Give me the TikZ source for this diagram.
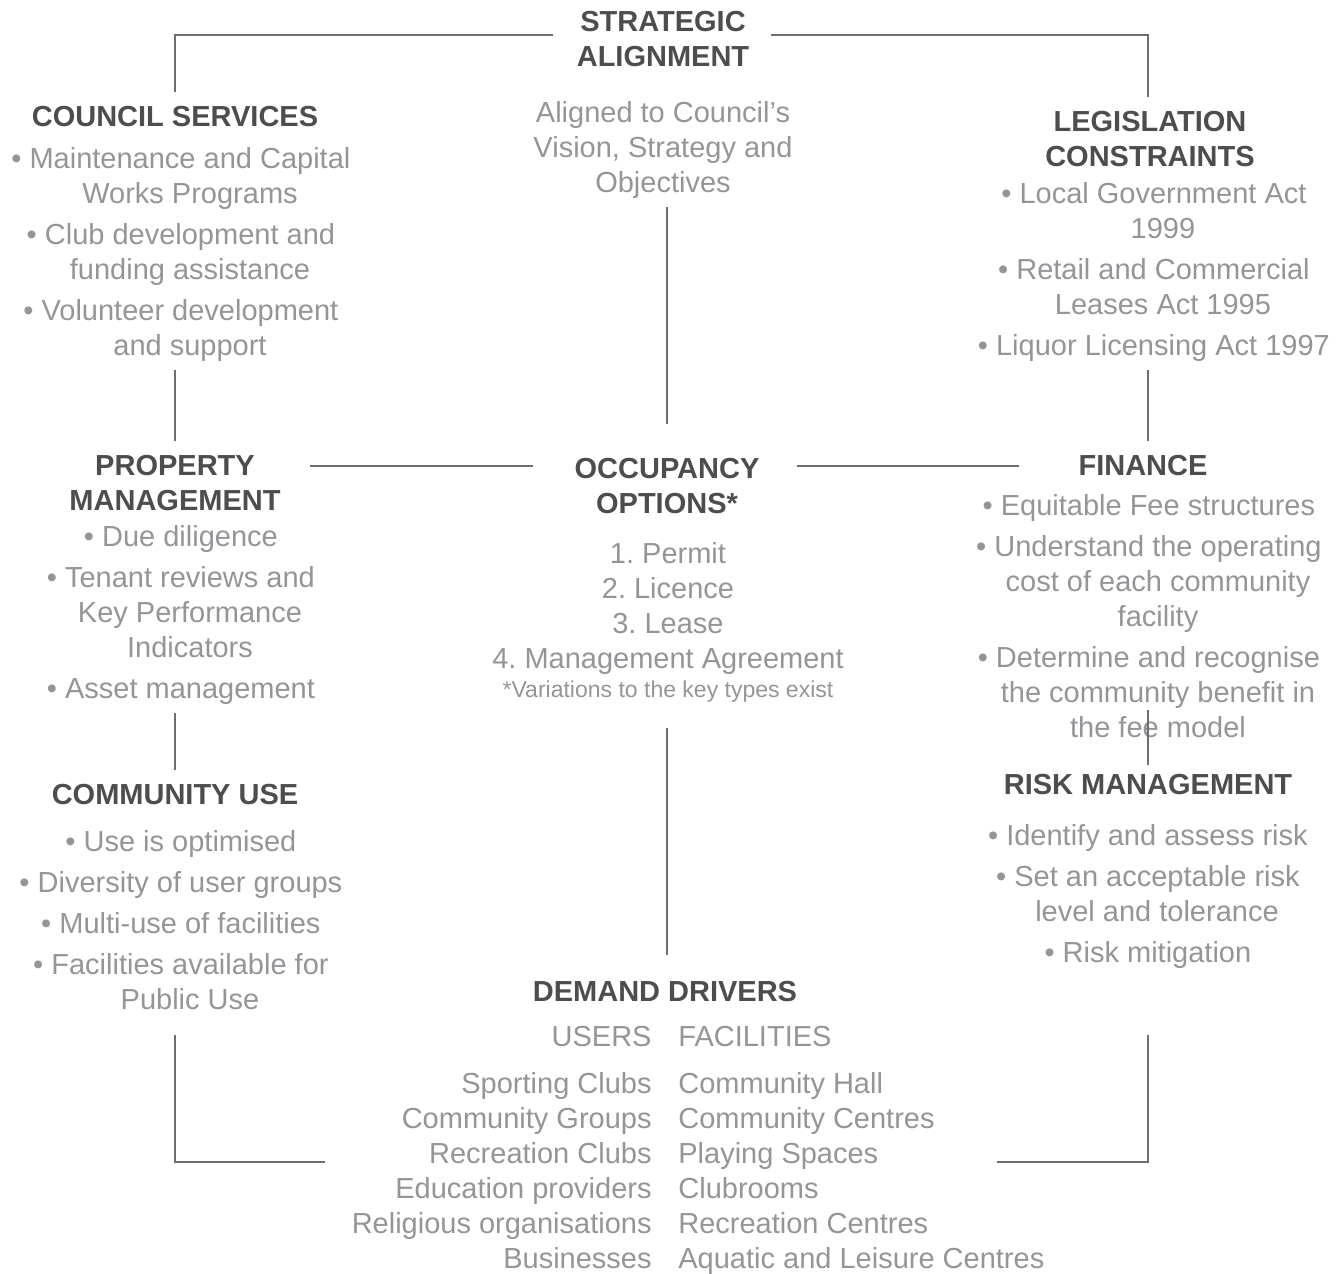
\documentclass[tikz,border=0pt]{standalone}
\usepackage{fontspec}
\setmainfont{Liberation Sans}
\usetikzlibrary{positioning, calc}
\definecolor{head-grey}{HTML}{4D4D4F}
\definecolor{text-grey}{HTML}{939598}
\definecolor{line-grey}{HTML}{6D6E71}
\newcommand{\bul}{\llap{\textbullet\ }}
\frenchspacing

\begin{document}
\begin{tikzpicture}[x=0.5pt, y=-0.5pt,
	head/.style={font=\fontsize{14.5}{17.5}\selectfont\bfseries, text=head-grey, align=center, inner xsep=0pt, inner ysep=7pt},
	body/.style={font=\fontsize{14.5}{17.5}\selectfont, text=text-grey, align=center, inner sep=4pt, anchor=north},
	link/.style={draw=line-grey, line width=1.1pt}]
	\useasboundingbox (0,0) rectangle (1341,1274);
	% centre column
	\node[head] (sa) at (663,39.5) {STRATEGIC\\ALIGNMENT};
	\node[body] (saT) at (663,93) {Aligned to Council’s\\Vision, Strategy and\\Objectives};
	\node[head] (oo) at (667,486.5) {OCCUPANCY\\OPTIONS*};
	\node[body] (ooT) at (668,534) {1. Permit\\2. Licence\\3. Lease\\4. Management Agreement\\[-3pt]{\fontsize{11.5}{14}\selectfont *Variations to the key types exist}};
	\node[head] (dd) at (665,992) {DEMAND DRIVERS};
	\node[body, anchor=north east, align=right] (users) at (660,1018) {USERS\\[6pt]Sporting Clubs\\Community Groups\\Recreation Clubs\\Education providers\\Religious organisations\\Businesses};
	\node[body, anchor=north west, align=left] (facilities) at (670,1018) {FACILITIES\\[6pt]Community Hall\\Community Centres\\Playing Spaces\\Clubrooms\\Recreation Centres\\Aquatic and Leisure Centres};
	% left column
	\node[head] (cs) at (175,117) {COUNCIL SERVICES};
	\node[body] (csT) at (190,139) {\bul Maintenance and Capital\\Works Programs\\[3pt]\bul Club development and\\funding assistance\\[3pt]\bul Volunteer development\\and support};
	\node[head] (pm) at (175,483.5) {PROPERTY\\MANAGEMENT};
	\node[body] (pmT) at (190,517) {\bul Due diligence\\[3pt]\bul Tenant reviews and\\Key Performance\\Indicators\\[3pt]\bul Asset management};
	\node[head] (cu) at (175,795) {COMMUNITY USE};
	\node[body] (cuT) at (190,822) {\bul Use is optimised\\[3pt]\bul Diversity of user groups\\[3pt]\bul Multi-use of facilities\\[3pt]\bul Facilities available for\\Public Use};
	% right column
	\node[head] (lc) at (1150,139.5) {LEGISLATION\\CONSTRAINTS};
	\node[body] (lcT) at (1163,174) {\bul Local Government Act\\1999\\[3pt]\bul Retail and Commercial\\Leases Act 1995\\[3pt]\bul Liquor Licensing Act 1997};
	\node[head] (fi) at (1143,466) {FINANCE};
	\node[body] (fiT) at (1158,486) {\bul Equitable Fee structures\\[3pt]\bul Understand the operating\\cost of each community\\facility\\[3pt]\bul Determine and recognise\\the community benefit in\\the fee model};
	\node[head] (rm) at (1148,785) {RISK MANAGEMENT};
	\node[body] (rmT) at (1157,816) {\bul Identify and assess risk\\[3pt]\bul Set an acceptable risk\\level and tolerance\\[3pt]\bul Risk mitigation};
	\coordinate (sw end) at (325,1162);
	\coordinate (se end) at (997,1162);
	\coordinate (fi tap) at (1148,710);
	\draw[link, shorten >=11.5pt] (cs.north) |- ([yshift=2.25pt]sa.west);
	\draw[link, shorten <=10.5pt] ([yshift=2.25pt]sa.east) -| (rm |- lc.north);
	\draw[link, shorten >=10pt] (oo.north |- saT.south) -- (oo.north);
	\draw[link, shorten <=8.5pt, shorten >=6pt] (oo.north |- ooT.south) -- (oo.north |- dd.north);
	\draw[link] (cs |- csT.south) -- (pm.north);
	\draw[link] (pm |- pmT.south) -- (cu.north);
	\draw[link] (rm |- lcT.south) -- (rm |- fi.north);
	\draw[link, shorten >=-2.5pt] (fi tap) -- (rm.north);
	\draw[link, shorten <=14.5pt, shorten >=20.5pt] (pm.east |- fi) -- (oo.west |- fi);
	\draw[link, shorten <=18.5pt, shorten >=29.5pt] (oo.east |- fi) -- (fi.west);
	\draw[link, shorten <=8.5pt] (cu |- cuT.south) |- (sw end);
	\draw[link, shorten <=29pt] (rm |- rmT.south) |- (se end);
\end{tikzpicture}
\end{document}
